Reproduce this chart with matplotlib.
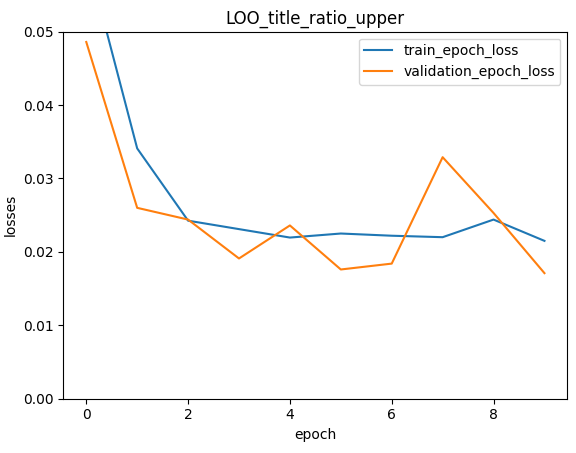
import matplotlib
matplotlib.use("Agg")
import matplotlib.pyplot as plt

epochs = list(range(10))
train_epoch_loss = [0.0606, 0.0341, 0.02425, 0.0231, 0.02195, 0.0225, 0.0222, 0.0220, 0.0244, 0.0215]
validation_epoch_loss = [0.0486, 0.0260, 0.0244, 0.0191, 0.0236, 0.0176, 0.0184, 0.0329, 0.0253, 0.0171]

fig, ax = plt.subplots(figsize=(5.76, 4.53), dpi=100)
ax.plot(epochs, train_epoch_loss, label="train_epoch_loss")
ax.plot(epochs, validation_epoch_loss, label="validation_epoch_loss")
ax.set_ylim(0, 0.05)
ax.set_title("LOO_title_ratio_upper")
ax.set_xlabel("epoch")
ax.set_ylabel("losses")
ax.legend(loc="upper right")
fig.subplots_adjust(left=0.11, right=0.985, top=0.93, bottom=0.12)
fig.savefig("out.png", dpi=100)
